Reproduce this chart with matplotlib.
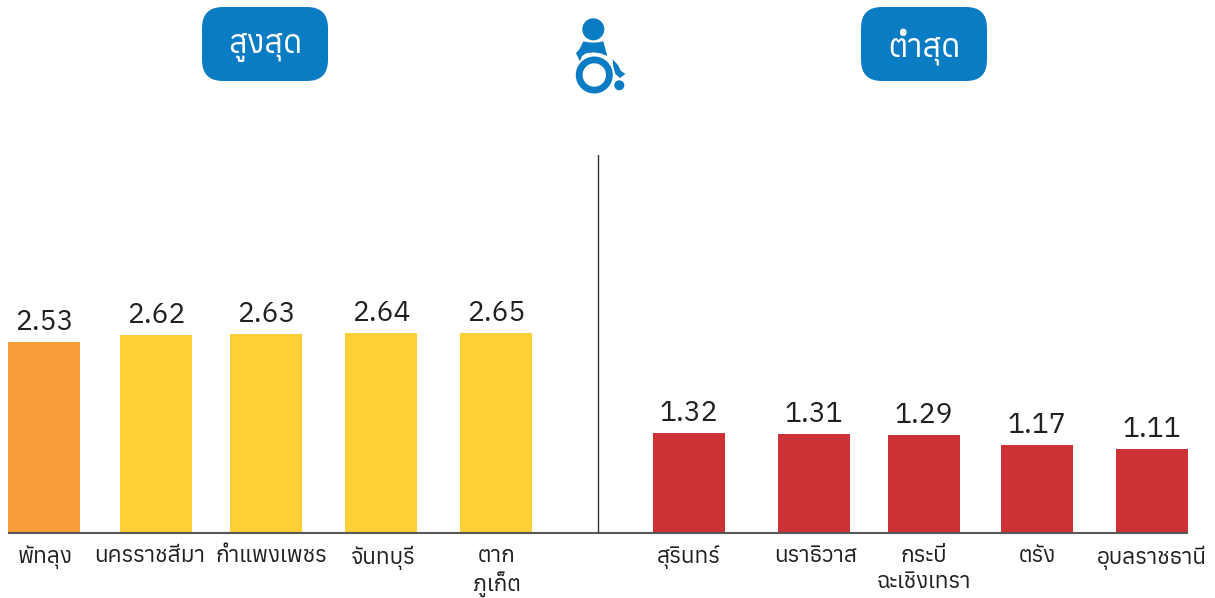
import matplotlib
matplotlib.use('Agg')
import matplotlib.pyplot as plt
from matplotlib.patches import FancyBboxPatch, Circle, Wedge, Polygon
from matplotlib.transforms import ScaledTranslation

plt.rcParams['font.family'] = ['Anuphan', 'Noto Sans Thai', 'Loma', 'DejaVu Sans']

high_labels = ['พัทลุง', 'นครราชสีมา', 'กำแพงเพชร', 'จันทบุรี', 'ตาก\nภูเก็ต']
high_values = [2.53, 2.62, 2.63, 2.64, 2.65]
high_colors = ['#F99D38', '#FFCF36', '#FFCF36', '#FFCF36', '#FFCF36']
high_x = [44, 156, 266, 381, 496]
high_dx = [1, -6, 5, 1, 1]

low_labels = ['สุรินทร์', 'นราธิวาส', 'กระบี่\nฉะเชิงเทรา', 'ตรัง', 'อุบลราชธานี']
low_values = [1.32, 1.31, 1.29, 1.17, 1.11]
low_colors = ['#CC3236'] * 5
low_x = [689, 814, 924, 1037, 1152]
low_dx = [0, 2, 0, 0, 0]

W, H = 1215, 598
fig = plt.figure(figsize=(W / 100, H / 100), dpi=100)
BASE, TOP = 533, 155
ax = fig.add_axes([0, 1 - BASE / H, 1, (BASE - TOP) / H])
ax.set_xlim(0, W)
ax.set_ylim(0, 5)
ax.patch.set_alpha(0)
for s in ax.spines.values():
    s.set_visible(False)
ax.set_yticks([])

xs = high_x + low_x
vals = high_values + low_values
cols = high_colors + low_colors
labs = high_labels + low_labels
dxs = high_dx + low_dx

bars = ax.bar(xs, vals, width=72, color=cols, linewidth=0, zorder=2)
for b, v in zip(bars, vals):
    ax.annotate(f'{v:.2f}', (b.get_x() + b.get_width() / 2, v), xytext=(0, 6),
                textcoords='offset pixels', ha='center', va='bottom',
                fontsize=20.3, color='#231F20', fontweight='medium')

ax.plot([8, 1188], [0, 0], color='#58595B', lw=1.5, zorder=3, clip_on=False, solid_capstyle='butt')
ax.axvline(598, color='#333333', lw=1.0, zorder=3)

ax.set_xticks(xs, labs, fontsize=16.2, color='#231F20', linespacing=1.2, fontweight='semibold')
ax.tick_params(axis='x', length=0, pad=9)
for lab, d in zip(ax.get_xticklabels(), dxs):
    lab.set_transform(lab.get_transform() + ScaledTranslation(d / 100, 0, fig.dpi_scale_trans))
    lab.set_va('top')

# overlay in pixel coordinates for the header decorations
ov = fig.add_axes([0, 0, 1, 1], zorder=5)
ov.set_xlim(0, W)
ov.set_ylim(H, 0)
ov.axis('off')
BLUE = '#0A7CC4'
for x0, x1, txt in [(202, 328, 'สูงสุด'), (861, 987, 'ต่ำสุด')]:
    ov.add_patch(FancyBboxPatch((x0 + 21, 7 + 21), x1 - x0 - 42, 74 - 42,
                                boxstyle='round,pad=21,rounding_size=21',
                                fc=BLUE, ec='none'))
    ov.text((x0 + x1) / 2, 47, txt, color='white', fontsize=23, ha='center', va='center',
            fontweight='semibold')

# wheelchair icon
def px(pts):
    return [(540 + a / 3, b / 3) for a, b in pts]
ov.add_patch(Circle((593.3, 29.3), 11, fc=BLUE, ec='none'))
ov.add_patch(Polygon(px([(130, 124), (145, 127), (160, 128), (175, 127), (190, 124),
                         (202, 168), (182, 160), (160, 157), (138, 160), (126, 168), (120, 184),
                         (108, 160), (120, 145)]), fc=BLUE, ec='none'))
ov.add_patch(Wedge((594.3, 75), 18.5, 0, 360, width=6.8, fc=BLUE, ec='none'))
ov.add_patch(Polygon(px([(218, 178), (234, 195), (242, 212), (256, 222), (240, 234),
                         (226, 222), (220, 200)]), fc=BLUE, ec='none'))
ov.add_patch(Circle((619.3, 85.3), 5, fc=BLUE, ec='none'))

fig.savefig('out.png', dpi=100)
